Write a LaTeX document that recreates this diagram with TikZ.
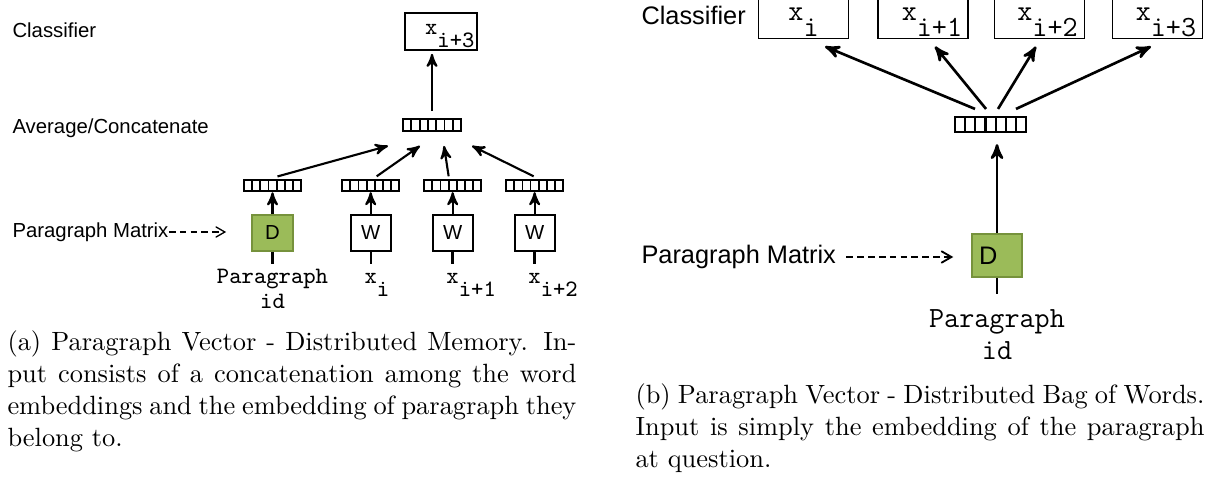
\documentclass[tikz,border=0pt]{standalone}
\usepackage{fontspec}
\newfontfamily\arialfont{Liberation Sans}
\usepackage{tikz}
\usetikzlibrary{arrows}
\usetikzlibrary{calc}
\usetikzlibrary{positioning}
\definecolor{parfill}{RGB}{155,187,89}
\definecolor{pardraw}{RGB}{118,146,60}
\newcommand{\pxu}{0.3788pt}
% index of x, takes no width
\newcommand{\xsub}[1]{x\rlap{\raisebox{-0.55em}{#1}}}
% index of x, counted in the width
\newcommand{\xfull}[1]{x\raisebox{-0.55em}{#1}}
\tikzset{
  sanssm/.style = {font=\arialfont\fontsize{7.7}{9.2}\selectfont},
  sanslg/.style = {font=\arialfont\fontsize{9.6}{11.5}\selectfont},
  monosm/.style = {font=\ttfamily\fontsize{8.9}{9.6}\selectfont, align=center},
  monolg/.style = {font=\ttfamily\fontsize{11.1}{11.8}\selectfont, align=center},
  lbl/.style = {anchor=west, inner sep=0},
  vec/.style = {draw, line width=0.7pt, inner sep=0, path picture={
      \foreach \k in {1, ..., 6}
        \draw ($(path picture bounding box.south west)!\k/7!(path picture bounding box.south east)$)
          -- ($(path picture bounding box.north west)!\k/7!(path picture bounding box.north east)$);
    }},
  dbox/.style = {fill=parfill, draw=pardraw, line width=0.6pt, inner sep=0},
  wbox/.style = {draw, line width=0.7pt, inner sep=0},
  arrA/.style = {->, >=stealth', line width=0.8pt},
  arrB/.style = {->, >=stealth', line width=1pt},
  stemA/.style = {line width=0.9pt},
  stemB/.style = {line width=1.1pt},
  dashar/.style = {->, >=angle 60, dash pattern=on 2.5pt off 1.6pt},
  capt/.style = {text width=215.5pt, align=justify, inner sep=0, anchor=north west,
    font=\fontsize{10}{12.1}\selectfont}
}
\begin{document}
\begin{tikzpicture}[x=\pxu, y=-\pxu]
  \useasboundingbox (0,0) rectangle (1210,477);

  % (a) distributed memory
  \node [sanssm, lbl] (clsA) at (12,30) {Classifier};
  \node [sanssm, lbl] (avgA) at (12,128) {Average/Concatenate};
  \node [sanssm, lbl] (pmA) at (12,232) {Paragraph Matrix};
  \node [dbox, sanssm, minimum width=41*\pxu, minimum height=36*\pxu] (dA) at (272.5,233) {D};
  \node [wbox, sanssm, minimum width=40*\pxu, minimum height=36*\pxu, right=21.2pt of dA] (wA1) {W};
  \foreach \n in {2, 3} {
    \pgfmathtruncatemacro \p { \n - 1 };
    \node [wbox, sanssm, minimum width=40*\pxu, minimum height=36*\pxu, right=15.2pt of wA\p] (wA\n) {W};
  }
  \node [vec, minimum width=57*\pxu, minimum height=11*\pxu, above=8.3pt of dA] (vA0) {};
  \foreach \n in {1, 2, 3}
    \node [vec, minimum width=57*\pxu, minimum height=11*\pxu, above=8.3pt of wA\n] (vA\n) {};
  \node [vec, minimum width=58*\pxu, minimum height=12*\pxu] (avA) at (432,125) {};
  \node [wbox, monosm, text height=7.4pt, minimum width=72*\pxu, minimum height=37*\pxu] (cA) at (441,31.5)
    {\hspace*{0.75em}\xfull{i+3}};
  \node [monosm, inner sep=1.9pt, below=4.5pt of dA] (pA) {Paragraph\\id};
  \foreach \s [count = \n] in {i, i+1, i+2}
    \node [monosm, inner sep=1.9pt, below=4.5pt of wA\n] (xA\n) {\vphantom{P}\xsub{\s}};

  \draw [dashar, line width=0.5pt, shorten >=9.5pt] (pmA.east) -- (pmA.east -| dA.west);
  \draw [arrA] (dA) -- (vA0);
  \draw [stemA] (dA) -- (pA);
  \foreach \n in {1, 2, 3} {
    \draw [arrA] (wA\n) -- (vA\n);
    \draw [stemA] (wA\n) -- (xA\n);
  }
  \foreach \n/\a/\b in {0/5/-44, 1/6/-12, 2/-4/12, 3/-1/40}
    \draw [arrA] ($(vA\n.north)+(\a,-3)$) -- ($(avA.south)+(\b,14)$);
  \draw [arrA, shorten <=2.6pt, shorten >=1.1pt] (avA.north) -- (avA.north |- cA.south);

  % (b) distributed bag of words
  \node [sanslg, lbl] (clsB) at (641,15) {Classifier};
  \node [sanslg, lbl] (pmB) at (641,257) {Paragraph Matrix};
  \node [dbox, sanslg, minimum width=50*\pxu, minimum height=43*\pxu] (dB) at (997,255.5) {D\hspace*{0.7em}};
  \node [vec, line width=0.8pt, minimum width=71*\pxu, minimum height=15*\pxu] (vB) at (990.5,124.5) {};
  \foreach \xx/\off/\s [count = \n] in {803.5/0/i, 923/6.8/i+1, 1039.5/6.1/i+2, 1157.5/6.4/i+3} {
    \node [monolg, inner sep=0, text height=7.8pt, minimum width=89*\pxu, minimum height=40*\pxu] (cB\n) at (\xx,18)
      {\hspace*{\off pt}\xfull{\s}};
    \draw [line width=0.7pt] (cB\n.north west) -- (cB\n.south west) -- (cB\n.south east) -- (cB\n.north east);
  }
  \node [monolg, inner sep=6pt, below=6pt of dB] (pB) {Paragraph\\id};

  \draw [dashar, line width=0.7pt, shorten <=3.8pt, shorten >=6.8pt] (pmB.east) -- (pmB.east -| dB.west);
  \draw [arrB, shorten >=4.2pt] (dB.north) -- (dB.north |- vB.south);
  \draw [stemB] (dB) -- (pB);
  \foreach \n/\a/\b in {1/-15.5/21.5, 2/-4.5/12, 3/7.5/-3.5, 4/25.5/-6.5}
    \draw [arrB] ($(vB.north)+(\a,-7)$) -- ($(cB\n.south)+(\b,8)$);

  % captions
  \node [capt] (capA) at (7,328) {\strut(a) Paragraph Vector - Distributed Memory. In-\linebreak
    put consists of a concatenation among the word\linebreak
    embeddings and the embedding of paragraph they\linebreak
    belong to.};
  \node [capt] (capB) at (635,381) {\strut(b) Paragraph Vector - Distributed Bag of Words.\linebreak
    Input is simply the embedding of the paragraph\linebreak
    at question.};
\end{tikzpicture}
\end{document}
